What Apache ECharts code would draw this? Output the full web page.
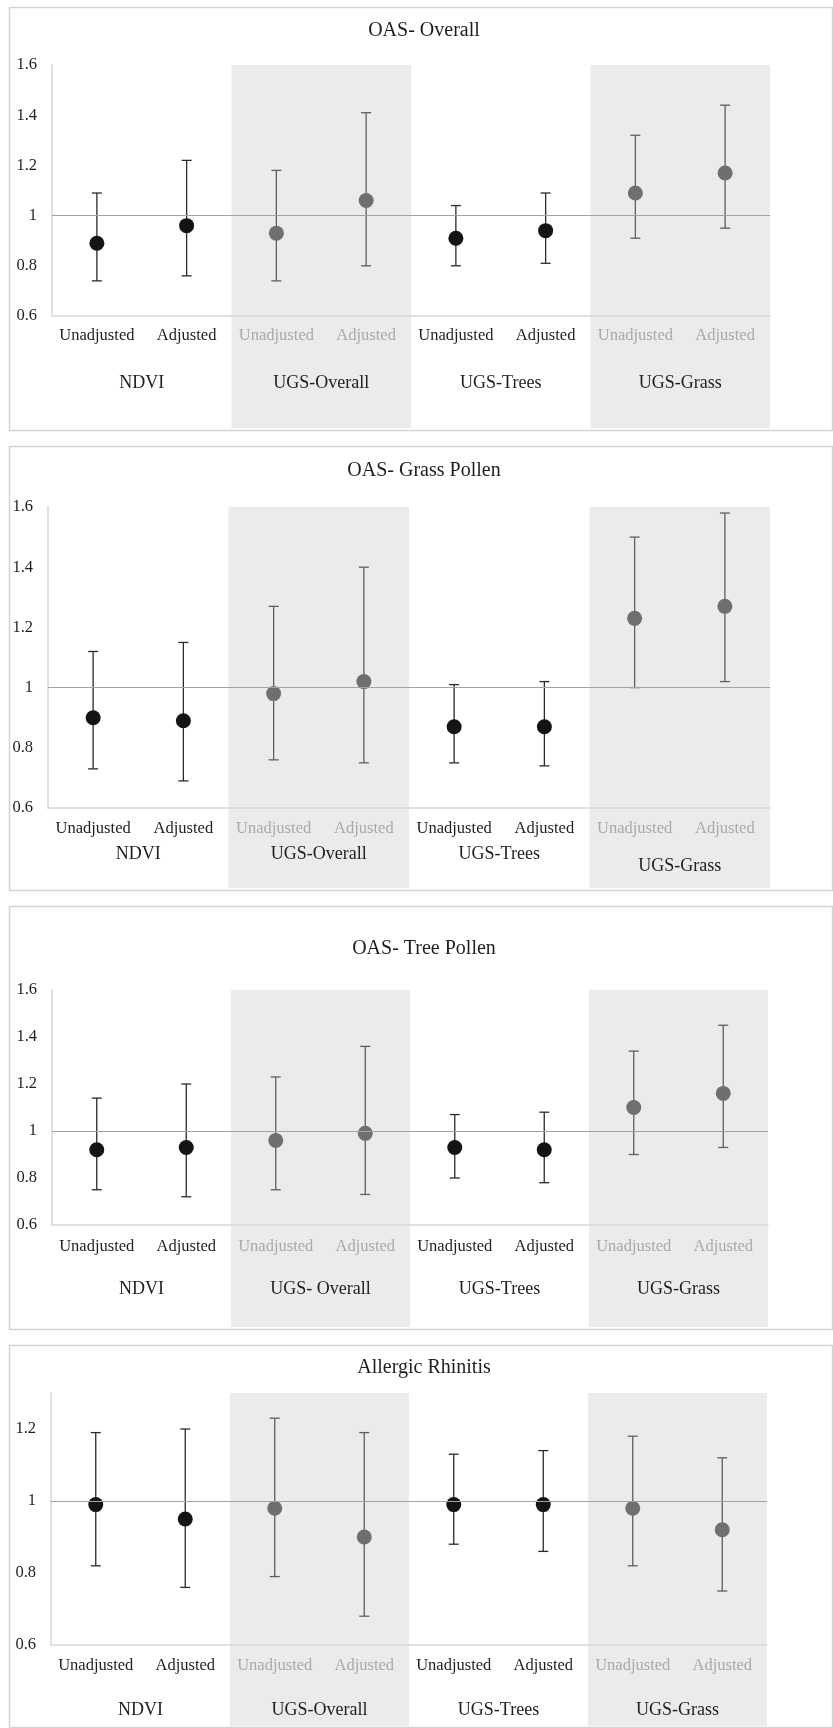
<!DOCTYPE html>
<html>
<head>
<meta charset="utf-8">
<script src="https://cdn.jsdelivr.net/npm/echarts@6/dist/echarts.min.js"></script>
<style>
html,body{margin:0;padding:0;background:#fff;}
#c{width:833px;height:1728px;}
</style>
</head>
<body>
<div id="c"></div>
<script>
// ---------- DATA ----------
const categories = ['Unadjusted','Adjusted','Unadjusted','Adjusted','Unadjusted','Adjusted','Unadjusted','Adjusted'];
const groupsA = ['NDVI','UGS-Overall','UGS-Trees','UGS-Grass'];
const groupsB = ['NDVI','UGS- Overall','UGS-Trees','UGS-Grass'];
const titles = ['OAS- Overall','OAS- Grass Pollen','OAS- Tree Pollen','Allergic Rhinitis'];

const overallEst  = [0.89, 0.96, 0.93, 1.06, 0.91, 0.94, 1.09, 1.17];
const overallLow  = [0.74, 0.76, 0.74, 0.80, 0.80, 0.81, 0.91, 0.95];
const overallHigh = [1.09, 1.22, 1.18, 1.41, 1.04, 1.09, 1.32, 1.44];

const grassEst  = [0.90, 0.89, 0.98, 1.02, 0.87, 0.87, 1.23, 1.27];
const grassLow  = [0.73, 0.69, 0.76, 0.75, 0.75, 0.74, 1.00, 1.02];
const grassHigh = [1.12, 1.15, 1.27, 1.40, 1.01, 1.02, 1.50, 1.58];

const treeEst  = [0.92, 0.93, 0.96, 0.99, 0.93, 0.92, 1.10, 1.16];
const treeLow  = [0.75, 0.72, 0.75, 0.73, 0.80, 0.78, 0.90, 0.93];
const treeHigh = [1.14, 1.20, 1.23, 1.36, 1.07, 1.08, 1.34, 1.45];

const arEst  = [0.99, 0.95, 0.98, 0.90, 0.99, 0.99, 0.98, 0.92];
const arLow  = [0.82, 0.76, 0.79, 0.68, 0.88, 0.86, 0.82, 0.75];
const arHigh = [1.19, 1.20, 1.23, 1.19, 1.13, 1.14, 1.18, 1.12];

const yMins = [0.6, 0.6, 0.6, 0.6];
const yMaxs = [1.6, 1.6, 1.6, 1.3];
const yInterval = 0.2;
const referenceValue = 1;
// shaded groups (UGS-Overall, UGS-Grass) as category index ranges
const bandRanges = [[2, 4], [6, 8]];

// ---------- LAYOUT / STYLE ----------
const FONT = 'Liberation Serif';
const panels = [
  {border:[9,7,832,430],    grid:{left:52,top:65,width:718,height:251},  titleY:32,   lblM:11, grpM:58, bandBottom:428,  groups:groupsA, est:overallEst, low:overallLow, high:overallHigh, lowGrass:false},
  {border:[9,446,832,890],  grid:{left:48,top:507,width:722,height:301}, titleY:472,  lblM:12, grpM:37, bandBottom:888,  groups:groupsA, est:grassEst, low:grassLow, high:grassHigh, lowGrass:true},
  {border:[9,906,832,1329], grid:{left:52,top:990,width:716,height:235}, titleY:950,  lblM:13, grpM:55, bandBottom:1327, groups:groupsB, est:treeEst, low:treeLow, high:treeHigh, lowGrass:false},
  {border:[9,1345,832,1727],grid:{left:51,top:1393,width:716,height:252},titleY:1369, lblM:12, grpM:56, bandBottom:1726, groups:groupsA, est:arEst, low:arLow, high:arHigh, lowGrass:false}
];

function inBand(i){ return bandRanges.some(r => i >= r[0] && i < r[1]); }

const option = {
  animation:false,
  backgroundColor:'#fff',
  textStyle:{fontFamily:FONT},
  title:[], grid:[], xAxis:[], yAxis:[], series:[], graphic:[]
};

panels.forEach((p, k) => {
  const b = p.border;
  option.graphic.push({type:'rect', shape:{x:b[0]+0.5,y:b[1]+0.5,width:b[2]-b[0],height:b[3]-b[1]},
    style:{fill:'none',stroke:'#d4d4d4',lineWidth:1.5}, z:-10, silent:true});

  option.title.push({text:titles[k], left:424, top:p.titleY-11, textAlign:'center', padding:0,
    textStyle:{fontFamily:FONT,fontSize:20,fontWeight:'normal',color:'#1e1e1e'}});

  const gMain = 2*k, gBg = 2*k+1;
  option.grid.push(Object.assign({}, p.grid, {containLabel:false}));
  option.grid.push({left:p.grid.left, top:p.grid.top, width:p.grid.width, height:p.bandBottom - p.grid.top});

  const xMain = 3*k, xGrp = 3*k+1, xBg = 3*k+2;
  const catIds = categories.map((c,i) => i + '|' + c);
  option.xAxis.push({type:'category', gridIndex:gMain, data:catIds, boundaryGap:true,
    axisLine:{show:true, lineStyle:{color:'#d6d6d6', width:1.5}}, axisTick:{show:false},
    axisLabel:{interval:0, margin:p.lblM, fontFamily:FONT, fontSize:16.5,
      formatter: v => v.split('|')[1],
      color: v => inBand(+v.split('|')[0]) ? '#a9a9a9' : '#1e1e1e'}});
  option.xAxis.push({type:'category', gridIndex:gMain, position:'bottom',
    data:p.groups.map((g,gi) => (p.lowGrass && gi === 3) ? {value:g, textStyle:{padding:[12,0,0,0]}} : g),
    axisLine:{show:false}, axisTick:{show:false}, splitLine:{show:false},
    axisLabel:{interval:0, margin:p.grpM, fontFamily:FONT, fontSize:18, color:'#1e1e1e'}});
  option.xAxis.push({type:'value', gridIndex:gBg, min:0, max:8, show:false});

  const yMain = 2*k, yBg = 2*k+1;
  option.yAxis.push({type:'value', gridIndex:gMain, min:yMins[k], max:yMaxs[k], interval:yInterval,
    axisLine:{show:true, lineStyle:{color:'#d6d6d6', width:1.5}}, axisTick:{show:false}, splitLine:{show:false},
    axisLabel:{margin:15, fontFamily:FONT, fontSize:16.5, color:'#1e1e1e', showMaxLabel: yMaxs[k] === 1.6,
      formatter: v => String(+v.toFixed(2))}});
  option.yAxis.push({type:'value', gridIndex:gBg, min:0, max:1, show:false});

  // shaded bands
  option.series.push({type:'custom', xAxisIndex:xBg, yAxisIndex:yBg, z:0, silent:true, clip:false,
    data:bandRanges, encode:{x:[0,1]},
    renderItem:(params, api) => {
      const s = api.coord([api.value(0), 1]);
      const e = api.coord([api.value(1), 0]);
      return {type:'rect', shape:{x:s[0], y:s[1], width:e[0]-s[0], height:e[1]-s[1]},
        style:{fill:'#ebebeb'}};
    }});

  // error bars
  option.series.push({type:'custom', xAxisIndex:xMain, yAxisIndex:yMain, z:3, silent:true,
    data:p.est.map((v,i) => [i, p.low[i], p.high[i]]), encode:{x:0, y:[1,2]},
    renderItem:(params, api) => {
      const i = api.value(0);
      const lo = api.coord([i, api.value(1)]);
      const hi = api.coord([i, api.value(2)]);
      const col = inBand(i) ? '#5e5e5e' : '#2a2a2a';
      const st = {stroke:col, lineWidth:1.3};
      const w = 5;
      return {type:'group', children:[
        {type:'line', shape:{x1:lo[0],y1:lo[1],x2:hi[0],y2:hi[1]}, style:st},
        {type:'line', shape:{x1:lo[0]-w,y1:lo[1],x2:lo[0]+w,y2:lo[1]}, style:st},
        {type:'line', shape:{x1:hi[0]-w,y1:hi[1],x2:hi[0]+w,y2:hi[1]}, style:st}
      ]};
    }});

  // point estimates + reference line
  option.series.push({type:'scatter', xAxisIndex:xMain, yAxisIndex:yMain, z:4, silent:true,
    symbol:'circle', symbolSize:15,
    data:p.est.map((v,i) => ({value:[i, v], itemStyle:{opacity:1, color: inBand(i) ? '#6f6f6f' : '#141414'}})),
    markLine:{silent:true, symbol:'none', label:{show:false}, animation:false,
      lineStyle:{color:'#a3a3a3', width:1.2, type:'solid'},
      data:[{yAxis:referenceValue}]}
  });
});

const chart = echarts.init(document.getElementById('c'), null, {renderer:'canvas'});
chart.setOption(option);
</script>
</body>
</html>
